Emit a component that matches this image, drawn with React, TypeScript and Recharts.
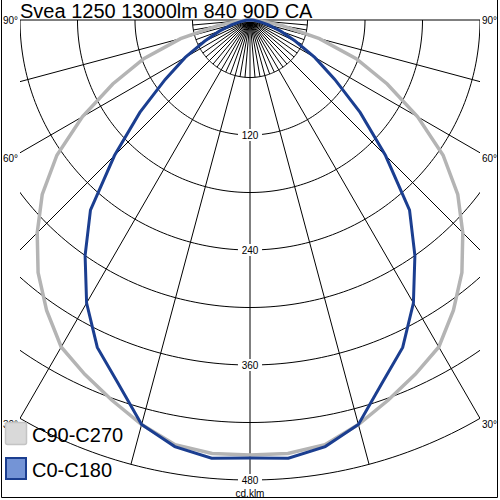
import React from 'react';
import { ComposedChart, Line, XAxis, YAxis, ReferenceDot } from 'recharts';

// ---------- data ----------
const TITLE = 'Svea 1250 13000lm 840 90D CA';
const UNIT_LABEL = 'cd.klm';
const GAMMA_ANGLES = [0, 5, 10, 15, 20, 25, 30, 35, 40, 45, 50, 55, 60, 65, 70, 75, 80, 85, 90];
const C0_C180_VALUES = [457, 459, 452, 437, 403, 377, 341, 300, 259, 200, 150, 108, 78, 52, 34, 20, 10, 4, 0];
const C90_C270_VALUES = [454, 454, 450, 437, 422, 408, 394, 370, 344, 314, 283, 246, 202, 158, 118, 75, 35, 12, 0];
const SERIES_NAMES = ['C90-C270', 'C0-C180'];
const RING_STEPS = [60, 120, 180, 240, 300, 360, 420, 480];
const RING_TICK_LABELS = [120, 240, 360, 480];
const MAJOR_SPOKES = [0, 15, 30, 45, 60, 75, 90];
const MINOR_SPOKES = [5, 10, 20, 25, 35, 40, 50, 55, 65, 70, 80, 85];
const EDGE_ANGLE_LABELS = [90, 60, 30];

// ---------- layout / style ----------
const W = 500;
const H = 500;
const R_MAX = 480;
const X_HALF = 240;
const Y_TOP = 3;
const Y_BOTTOM = -490;
const K = 460 / 480; // px per unit
const MARGIN_LEFT = 20;
const MARGIN_RIGHT = 20;
const MARGIN_TOP = 20 - Y_TOP * K;
const MARGIN_BOTTOM = H - MARGIN_TOP - (Y_TOP - Y_BOTTOM) * K;
const FONT = '"Liberation Sans", Arial, sans-serif';
const BLUE = '#1B3E90';
const GREY = '#B4B4B4';

type Pt = { x: number; y: number };
const rad = (d: number) => (d * Math.PI) / 180;
const toXY = (deg: number, r: number, side: number): Pt => ({
  x: side * r * Math.sin(rad(deg)),
  y: -r * Math.cos(rad(deg)),
});

const buildCurve = (values: number[]): Pt[] => {
  const pts: Pt[] = [];
  for (let i = GAMMA_ANGLES.length - 1; i >= 0; i--) pts.push(toXY(GAMMA_ANGLES[i], values[i], -1));
  for (let i = 1; i < GAMMA_ANGLES.length; i++) pts.push(toXY(GAMMA_ANGLES[i], values[i], 1));
  return pts;
};

const buildRing = (r: number): Pt[] => {
  const pts: Pt[] = [];
  for (let d = -90; d <= 90; d += 1) pts.push({ x: r * Math.sin(rad(d)), y: -r * Math.cos(rad(d)) });
  return pts;
};

const spokes: { key: string; data: Pt[] }[] = [];
MAJOR_SPOKES.forEach((a) => {
  (a === 0 ? [1] : [-1, 1]).forEach((s) => {
    spokes.push({ key: `M${a}_${s}`, data: [{ x: 0, y: 0 }, toXY(a, R_MAX, s)] });
  });
});
MINOR_SPOKES.forEach((a) => {
  [-1, 1].forEach((s) => {
    spokes.push({ key: `m${a}_${s}`, data: [{ x: 0, y: 0 }, toXY(a, RING_STEPS[0], s)] });
  });
});

const RingLabel = (props: any) => {
  const vb = props.viewBox || { x: 0, y: 0, width: 0, height: 0 };
  const cx = vb.x + (vb.width || 0) / 2;
  const cy = vb.y + (vb.height || 0) / 2 + (props.dy || 0);
  return (
    <g>
      {props.box ? <rect x={cx - 12} y={cy - 6} width={24} height={12} fill="#fff" /> : null}
      <text x={cx} y={cy} textAnchor="middle" dominantBaseline="central" fontSize={10} fontFamily={FONT} fill="#000">
        {props.text}
      </text>
    </g>
  );
};

const EdgeLabel = (props: any) => {
  const vb = props.viewBox || { x: 0, y: 0, width: 0, height: 0 };
  const cx = vb.x + (vb.width || 0) / 2;
  const cy = vb.y + (vb.height || 0) / 2 + (props.dy || 0);
  const left = props.side < 0;
  return (
    <text
      x={left ? cx - 2 : cx + 2}
      y={cy}
      textAnchor={left ? 'end' : 'start'}
      dominantBaseline="central"
      fontSize={10}
      fontFamily={FONT}
      fill="#000"
    >
      {props.text}
    </text>
  );
};

export default function App() {
  const greyCurve = buildCurve(C90_C270_VALUES);
  const blueCurve = buildCurve(C0_C180_VALUES);
  return (
    <div style={{ position: 'absolute', left: 0, top: 0, width: W, height: H, background: '#fff' }}>
      <ComposedChart
        width={W}
        height={H}
        margin={{ top: MARGIN_TOP, right: MARGIN_RIGHT, bottom: MARGIN_BOTTOM, left: MARGIN_LEFT }}
      >
        <XAxis type="number" dataKey="x" domain={[-X_HALF, X_HALF]} allowDataOverflow hide />
        <YAxis type="number" dataKey="y" domain={[Y_BOTTOM, Y_TOP]} allowDataOverflow hide />
        {RING_STEPS.map((r) => (
          <Line
            key={`ring${r}`}
            data={buildRing(r)}
            dataKey="y"
            type="linear"
            stroke="#000"
            strokeWidth={1}
            dot={false}
            activeDot={false}
            legendType="none"
            isAnimationActive={false}
          />
        ))}
        {spokes.map((s) => (
          <Line
            key={s.key}
            data={s.data}
            dataKey="y"
            type="linear"
            stroke="#000"
            strokeWidth={1}
            dot={false}
            activeDot={false}
            legendType="none"
            isAnimationActive={false}
          />
        ))}
        <Line
          data={greyCurve}
          dataKey="y"
          name={SERIES_NAMES[0]}
          type="linear"
          stroke={GREY}
          strokeWidth={3.5}
          dot={false}
          activeDot={false}
          isAnimationActive={false}
        />
        <Line
          data={blueCurve}
          dataKey="y"
          name={SERIES_NAMES[1]}
          type="linear"
          stroke={BLUE}
          strokeWidth={3}
          dot={false}
          activeDot={false}
          isAnimationActive={false}
        />
        {RING_TICK_LABELS.map((v) => (
          <ReferenceDot
            key={`rl${v}`}
            x={0}
            y={-v}
            r={1}
            fill="none"
            stroke="none"
            ifOverflow="visible"
            label={<RingLabel text={String(v)} box />}
          />
        ))}
        <ReferenceDot
          x={0}
          y={-RING_TICK_LABELS[RING_TICK_LABELS.length - 1]}
          r={1}
          fill="none"
          stroke="none"
          ifOverflow="visible"
          label={<RingLabel text={UNIT_LABEL} dy={13} />}
        />
        {EDGE_ANGLE_LABELS.flatMap((a) =>
          [-1, 1].map((s) => (
            <ReferenceDot
              key={`el${a}_${s}`}
              x={s * X_HALF}
              y={(-X_HALF * Math.cos(rad(a))) / Math.sin(rad(a))}
              r={1}
              fill="none"
              stroke="none"
              ifOverflow="visible"
              label={<EdgeLabel text={`${a}°`} side={s} dy={a === 90 ? 0 : 6} />}
            />
          ))
        )}
      </ComposedChart>
      <svg
        width={W}
        height={H}
        style={{ position: 'absolute', left: 0, top: 0, pointerEvents: 'none' }}
      >
        <path d="M1.5,0 V497.5 H497.5 V0" fill="none" stroke="#000" strokeWidth={1} />
        <text x={20} y={18} fontSize={20} fontFamily={FONT} fill="#000">
          {TITLE}
        </text>
        <rect x={5.5} y={422.5} width={21} height={22} rx={2} fill="#D9D9D9" stroke="#C4C4C4" strokeWidth={1.5} />
        <text x={32} y={441.5} fontSize={20} fontFamily={FONT} fill="#000">
          {SERIES_NAMES[0]}
        </text>
        <rect x={6} y={458} width={20} height={21} fill="#7494D6" stroke={BLUE} strokeWidth={2} />
        <text x={32} y={477} fontSize={20} fontFamily={FONT} fill="#000">
          {SERIES_NAMES[1]}
        </text>
      </svg>
    </div>
  );
}
